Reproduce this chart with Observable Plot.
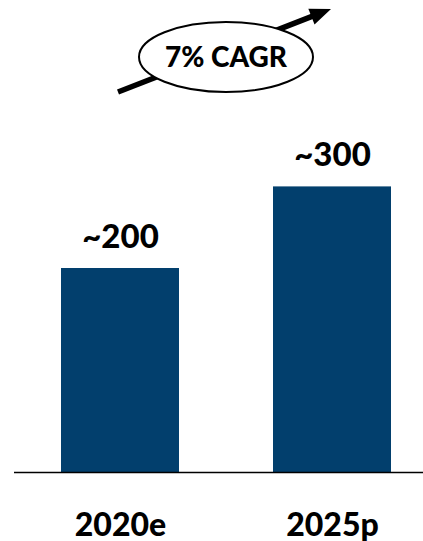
<!DOCTYPE html>
<html><head><meta charset="utf-8">
<script src="https://cdn.jsdelivr.net/npm/d3@7"></script>
<script src="https://cdn.jsdelivr.net/npm/@observablehq/plot@0.6"></script>
<style>body{margin:0;background:#fff} #chart{width:423px;height:541px}</style>
</head><body><div id="chart"></div>
<script>
const categories = ["2020e", "2025p"];
const values = [200, 280];
const valueLabels = ["~200", "~300"];
const growthLabel = "7% CAGR";

const data = categories.map((c, i) => ({category: c, value: values[i], label: valueLabels[i]}));
const font = "Lato, 'Open Sans', sans-serif";
const weight = 900;

const annotation = (index, scales, vals, dims) => {
  const bw = typeof scales.x.bandwidth === "function" ? scales.x.bandwidth() : 118;
  const cx = (scales.x(categories[0]) + scales.x(categories[1]) + bw) / 2;
  const cy = 57;
  const g = d3.create("svg:g");
  const x0 = cx - 108, y0 = cy + 35;
  const tx = cx + 105, ty = cy - 48;
  const len = Math.hypot(tx - x0, ty - y0);
  const ux = (tx - x0) / len, uy = (ty - y0) / len;
  const nx = -uy, ny = ux;
  const hl = 21, hw = 8.5;
  const bx = tx - hl * ux, by = ty - hl * uy;
  g.append("line").attr("x1", x0).attr("y1", y0).attr("x2", bx + ux * 2).attr("y2", by + uy * 2)
    .attr("stroke", "#000").attr("stroke-width", 5.5);
  g.append("path")
    .attr("d", `M${tx},${ty}L${bx + hw * nx},${by + hw * ny}L${bx - hw * nx},${by - hw * ny}Z`)
    .attr("fill", "#000");
  g.append("ellipse").attr("cx", cx).attr("cy", cy).attr("rx", 87).attr("ry", 35)
    .attr("fill", "#fff").attr("stroke", "#000").attr("stroke-width", 2);
  g.append("text").attr("x", cx).attr("y", cy + 10).attr("text-anchor", "middle")
    .attr("font-family", font).attr("font-weight", weight).attr("font-size", 28)
    .attr("fill", "#000").text(growthLabel);
  return g.node();
};

const chart = Plot.plot({
  width: 423,
  height: 541,
  marginLeft: 14,
  marginRight: 0,
  marginTop: 64,
  marginBottom: 69,
  style: {fontFamily: font, background: "#fff"},
  x: {domain: categories, paddingInner: 0.443, paddingOuter: 0.186, align: 0.596, axis: null},
  y: {domain: [0, 400], axis: null},
  marks: [
    Plot.barY(data, {x: "category", y: "value", fill: "#023f6d"}),
    Plot.ruleY([0], {stroke: "#000", strokeWidth: 1.5}),
    Plot.text(data, {x: "category", y: "value", text: "label", dy: -21, lineAnchor: "bottom",
      fontSize: 33, fontWeight: weight, fill: "#000"}),
    Plot.text(data, {x: "category", y: 0, text: "category", dy: 63, lineAnchor: "bottom",
      fontSize: 32, fontWeight: weight, fill: "#000"}),
    annotation
  ]
});
document.getElementById("chart").appendChild(chart);
</script>
</body></html>
